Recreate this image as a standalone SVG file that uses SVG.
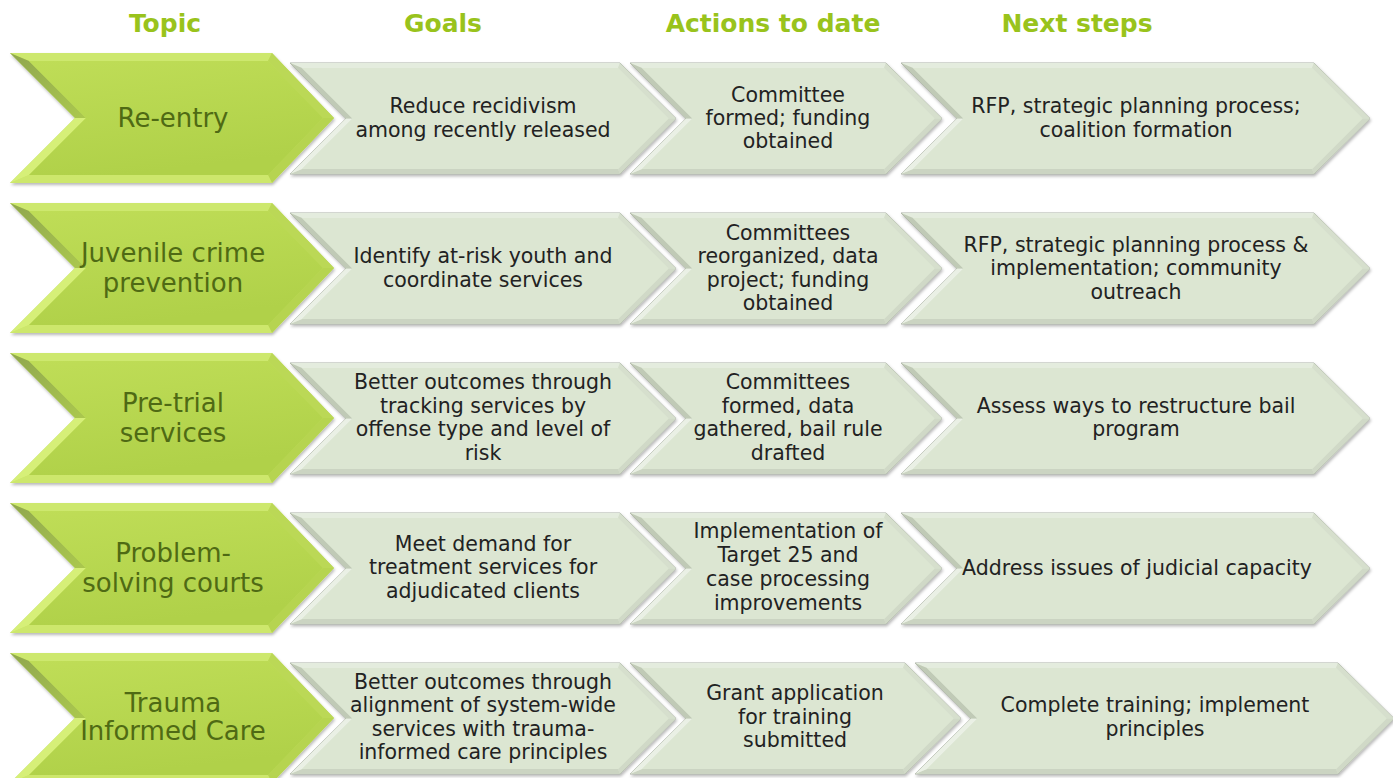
<svg xmlns="http://www.w3.org/2000/svg" xmlns:xlink="http://www.w3.org/1999/xlink" width="1393" height="778" viewBox="0 0 1393 778">
<style>
.h{font-family:"DejaVu Sans","Liberation Sans",sans-serif;font-weight:bold;font-size:25px;fill:#99C31C;text-anchor:middle}
.t{font-family:"DejaVu Sans","Liberation Sans",sans-serif;font-size:26px;fill:#4F6A14;text-anchor:middle}
.b{font-family:"DejaVu Sans","Liberation Sans",sans-serif;font-size:20.5px;fill:#222222;text-anchor:middle}
.gO{fill:#C2DF5A}
.gT{fill:#CDE86E}
.gUR{fill:#BBD856}
.gLR{fill:#B6D450}
.gB{fill:#CDE76C}
.gLL{fill:#D6EF78}
.gUL{fill:url(#gul)}
.gC{fill:url(#gc)}
.lO{fill:#DCE6D2;stroke:#98A092;stroke-width:0.8}
.lT{fill:#E4ECDE}
.lUR{fill:#D6DFCD}
.lLR{fill:#D0D9C7}
.lB{fill:#CBD4C2}
.lLL{fill:#EAF0E5}
.lUL{fill:#C0CAB6}
.lC{fill:#DCE6D2}
</style>
<defs>
<filter id="sh" x="-5%" y="-5%" width="110%" height="115%">
<feDropShadow dx="1" dy="2" stdDeviation="1.5" flood-color="#000" flood-opacity="0.28"/>
</filter>
<linearGradient id="gc" x1="0" y1="0" x2="0.3" y2="1">
<stop offset="0" stop-color="#BFDD57"/>
<stop offset="1" stop-color="#B0D149"/>
</linearGradient>
<linearGradient id="gul" x1="0" y1="0" x2="1" y2="1">
<stop offset="0" stop-color="#8FA64E"/>
<stop offset="1" stop-color="#ABC84E"/>
</linearGradient>
<g id="sGreen">
<polygon class="gO" filter="url(#sh)" points="10,53 272,53 334,118 272,183 10,183 75,118"/>
<polygon class="gT" points="10,53 272,53 268,61 29,61"/>
<polygon class="gUR" points="272,53 334,118 323,118 268,61"/>
<polygon class="gLR" points="334,118 272,183 268,175 323,118"/>
<polygon class="gB" points="272,183 10,183 29,175 268,175"/>
<polygon class="gLL" points="10,183 75,118 86,118 29,175"/>
<polygon class="gUL" points="75,118 10,53 29,61 86,118"/>
<polygon class="gC" points="29,61 268,61 323,118 268,175 29,175 86,118"/>
</g>
<g id="sGoals">
<polygon class="lO" filter="url(#sh)" points="290,63 620,63 676,118.5 620,174 290,174 346,118.5"/>
<polygon class="lT" points="290,63 620,63 618,68 302,68"/>
<polygon class="lUR" points="620,63 676,118.5 668.5,118.5 618,68"/>
<polygon class="lLR" points="676,118.5 620,174 618,169 668.5,118.5"/>
<polygon class="lB" points="620,174 290,174 302,169 618,169"/>
<polygon class="lLL" points="290,174 346,118.5 352.5,118.5 302,169"/>
<polygon class="lUL" points="346,118.5 290,63 302,68 352.5,118.5"/>
<polygon class="lC" points="302,68 618,68 668.5,118.5 618,169 302,169 352.5,118.5"/>
</g>
<g id="sAct">
<polygon class="lO" filter="url(#sh)" points="630,63 886,63 942,118.5 886,174 630,174 686,118.5"/>
<polygon class="lT" points="630,63 886,63 884,68 642,68"/>
<polygon class="lUR" points="886,63 942,118.5 934.5,118.5 884,68"/>
<polygon class="lLR" points="942,118.5 886,174 884,169 934.5,118.5"/>
<polygon class="lB" points="886,174 630,174 642,169 884,169"/>
<polygon class="lLL" points="630,174 686,118.5 692.5,118.5 642,169"/>
<polygon class="lUL" points="686,118.5 630,63 642,68 692.5,118.5"/>
<polygon class="lC" points="642,68 884,68 934.5,118.5 884,169 642,169 692.5,118.5"/>
</g>
<g id="sNext">
<polygon class="lO" filter="url(#sh)" points="901,63 1314,63 1370,118.5 1314,174 901,174 957,118.5"/>
<polygon class="lT" points="901,63 1314,63 1312,68 913,68"/>
<polygon class="lUR" points="1314,63 1370,118.5 1362.5,118.5 1312,68"/>
<polygon class="lLR" points="1370,118.5 1314,174 1312,169 1362.5,118.5"/>
<polygon class="lB" points="1314,174 901,174 913,169 1312,169"/>
<polygon class="lLL" points="901,174 957,118.5 963.5,118.5 913,169"/>
<polygon class="lUL" points="957,118.5 901,63 913,68 963.5,118.5"/>
<polygon class="lC" points="913,68 1312,68 1362.5,118.5 1312,169 913,169 963.5,118.5"/>
</g>
<g id="sAct5">
<polygon class="lO" filter="url(#sh)" points="630,63 905,63 961,118.5 905,174 630,174 686,118.5"/>
<polygon class="lT" points="630,63 905,63 903,68 642,68"/>
<polygon class="lUR" points="905,63 961,118.5 953.5,118.5 903,68"/>
<polygon class="lLR" points="961,118.5 905,174 903,169 953.5,118.5"/>
<polygon class="lB" points="905,174 630,174 642,169 903,169"/>
<polygon class="lLL" points="630,174 686,118.5 692.5,118.5 642,169"/>
<polygon class="lUL" points="686,118.5 630,63 642,68 692.5,118.5"/>
<polygon class="lC" points="642,68 903,68 953.5,118.5 903,169 642,169 692.5,118.5"/>
</g>
<g id="sNext5">
<polygon class="lO" filter="url(#sh)" points="915,63 1338,63 1394,118.5 1338,174 915,174 971,118.5"/>
<polygon class="lT" points="915,63 1338,63 1336,68 927,68"/>
<polygon class="lUR" points="1338,63 1394,118.5 1386.5,118.5 1336,68"/>
<polygon class="lLR" points="1394,118.5 1338,174 1336,169 1386.5,118.5"/>
<polygon class="lB" points="1338,174 915,174 927,169 1336,169"/>
<polygon class="lLL" points="915,174 971,118.5 977.5,118.5 927,169"/>
<polygon class="lUL" points="971,118.5 915,63 927,68 977.5,118.5"/>
<polygon class="lC" points="927,68 1336,68 1386.5,118.5 1336,169 927,169 977.5,118.5"/>
</g>
</defs>
<rect width="1393" height="778" fill="#FFFFFF"/>
<g id="headers">
<text class="h" x="165" y="32">Topic</text>
<text class="h" x="443" y="32">Goals</text>
<text class="h" x="773" y="32">Actions to date</text>
<text class="h" x="1077" y="32">Next steps</text>
</g>
<g id="connectors"></g>

<!-- Row 1 -->
<g id="topic-reentry">
<use xlink:href="#sGreen"/>
<text class="t" x="173" y="127">Re-entry</text>
</g>
<g id="goals-reentry">
<use xlink:href="#sGoals"/>
<text class="b" x="483" y="113">Reduce recidivism</text>
<text class="b" x="483" y="137">among recently released</text>
</g>
<g id="actions-reentry">
<use xlink:href="#sAct"/>
<text class="b" x="788" y="102">Committee</text>
<text class="b" x="788" y="125">formed; funding</text>
<text class="b" x="788" y="148">obtained</text>
</g>
<g id="next-reentry">
<use xlink:href="#sNext"/>
<text class="b" x="1136" y="113">RFP, strategic planning process;</text>
<text class="b" x="1136" y="137">coalition formation</text>
</g>

<!-- Row 2 -->
<g id="topic-juvenile">
<use xlink:href="#sGreen" transform="translate(0,150)"/>
<text class="t" x="173" y="262">Juvenile crime</text>
<text class="t" x="173" y="292">prevention</text>
</g>
<g id="goals-juvenile">
<use xlink:href="#sGoals" transform="translate(0,150)"/>
<text class="b" x="483" y="263">Identify at-risk youth and</text>
<text class="b" x="483" y="287">coordinate services</text>
</g>
<g id="actions-juvenile">
<use xlink:href="#sAct" transform="translate(0,150)"/>
<text class="b" x="788" y="240">Committees</text>
<text class="b" x="788" y="263">reorganized, data</text>
<text class="b" x="788" y="287">project; funding</text>
<text class="b" x="788" y="310">obtained</text>
</g>
<g id="next-juvenile">
<use xlink:href="#sNext" transform="translate(0,150)"/>
<text class="b" x="1136" y="252">RFP, strategic planning process &amp;</text>
<text class="b" x="1136" y="275">implementation; community</text>
<text class="b" x="1136" y="299">outreach</text>
</g>

<!-- Row 3 -->
<g id="topic-pretrial">
<use xlink:href="#sGreen" transform="translate(0,300)"/>
<text class="t" x="173" y="412">Pre-trial</text>
<text class="t" x="173" y="442">services</text>
</g>
<g id="goals-pretrial">
<use xlink:href="#sGoals" transform="translate(0,300)"/>
<text class="b" x="483" y="389">Better outcomes through</text>
<text class="b" x="483" y="413">tracking services by</text>
<text class="b" x="483" y="436">offense type and level of</text>
<text class="b" x="483" y="460">risk</text>
</g>
<g id="actions-pretrial">
<use xlink:href="#sAct" transform="translate(0,300)"/>
<text class="b" x="788" y="389">Committees</text>
<text class="b" x="788" y="413">formed, data</text>
<text class="b" x="788" y="436">gathered, bail rule</text>
<text class="b" x="788" y="460">drafted</text>
</g>
<g id="next-pretrial">
<use xlink:href="#sNext" transform="translate(0,300)"/>
<text class="b" x="1136" y="413">Assess ways to restructure bail</text>
<text class="b" x="1136" y="436">program</text>
</g>

<!-- Row 4 -->
<g id="topic-problem">
<use xlink:href="#sGreen" transform="translate(0,450)"/>
<text class="t" x="173" y="562">Problem-</text>
<text class="t" x="173" y="592">solving courts</text>
</g>
<g id="goals-problem">
<use xlink:href="#sGoals" transform="translate(0,450)"/>
<text class="b" x="483" y="551">Meet demand for</text>
<text class="b" x="483" y="574">treatment services for</text>
<text class="b" x="483" y="598">adjudicated clients</text>
</g>
<g id="actions-problem">
<use xlink:href="#sAct" transform="translate(0,450)"/>
<text class="b" x="788" y="538">Implementation of</text>
<text class="b" x="788" y="562">Target 25 and</text>
<text class="b" x="788" y="586">case processing</text>
<text class="b" x="788" y="610">improvements</text>
</g>
<g id="next-problem">
<use xlink:href="#sNext" transform="translate(0,450)"/>
<text class="b" x="1137" y="575">Address issues of judicial capacity</text>
</g>

<!-- Row 5 -->
<g id="topic-trauma">
<use xlink:href="#sGreen" transform="translate(0,600)"/>
<text class="t" x="173" y="712">Trauma</text>
<text class="t" x="173" y="740">Informed Care</text>
</g>
<g id="goals-trauma">
<use xlink:href="#sGoals" transform="translate(0,600)"/>
<text class="b" x="483" y="689">Better outcomes through</text>
<text class="b" x="483" y="712">alignment of system-wide</text>
<text class="b" x="483" y="736">services with trauma-</text>
<text class="b" x="483" y="759">informed care principles</text>
</g>
<g id="actions-trauma">
<use xlink:href="#sAct5" transform="translate(0,600)"/>
<text class="b" x="795" y="700">Grant application</text>
<text class="b" x="795" y="724">for training</text>
<text class="b" x="795" y="747">submitted</text>
</g>
<g id="next-trauma">
<use xlink:href="#sNext5" transform="translate(0,600)"/>
<text class="b" x="1155" y="712">Complete training; implement</text>
<text class="b" x="1155" y="736">principles</text>
</g>
</svg>
